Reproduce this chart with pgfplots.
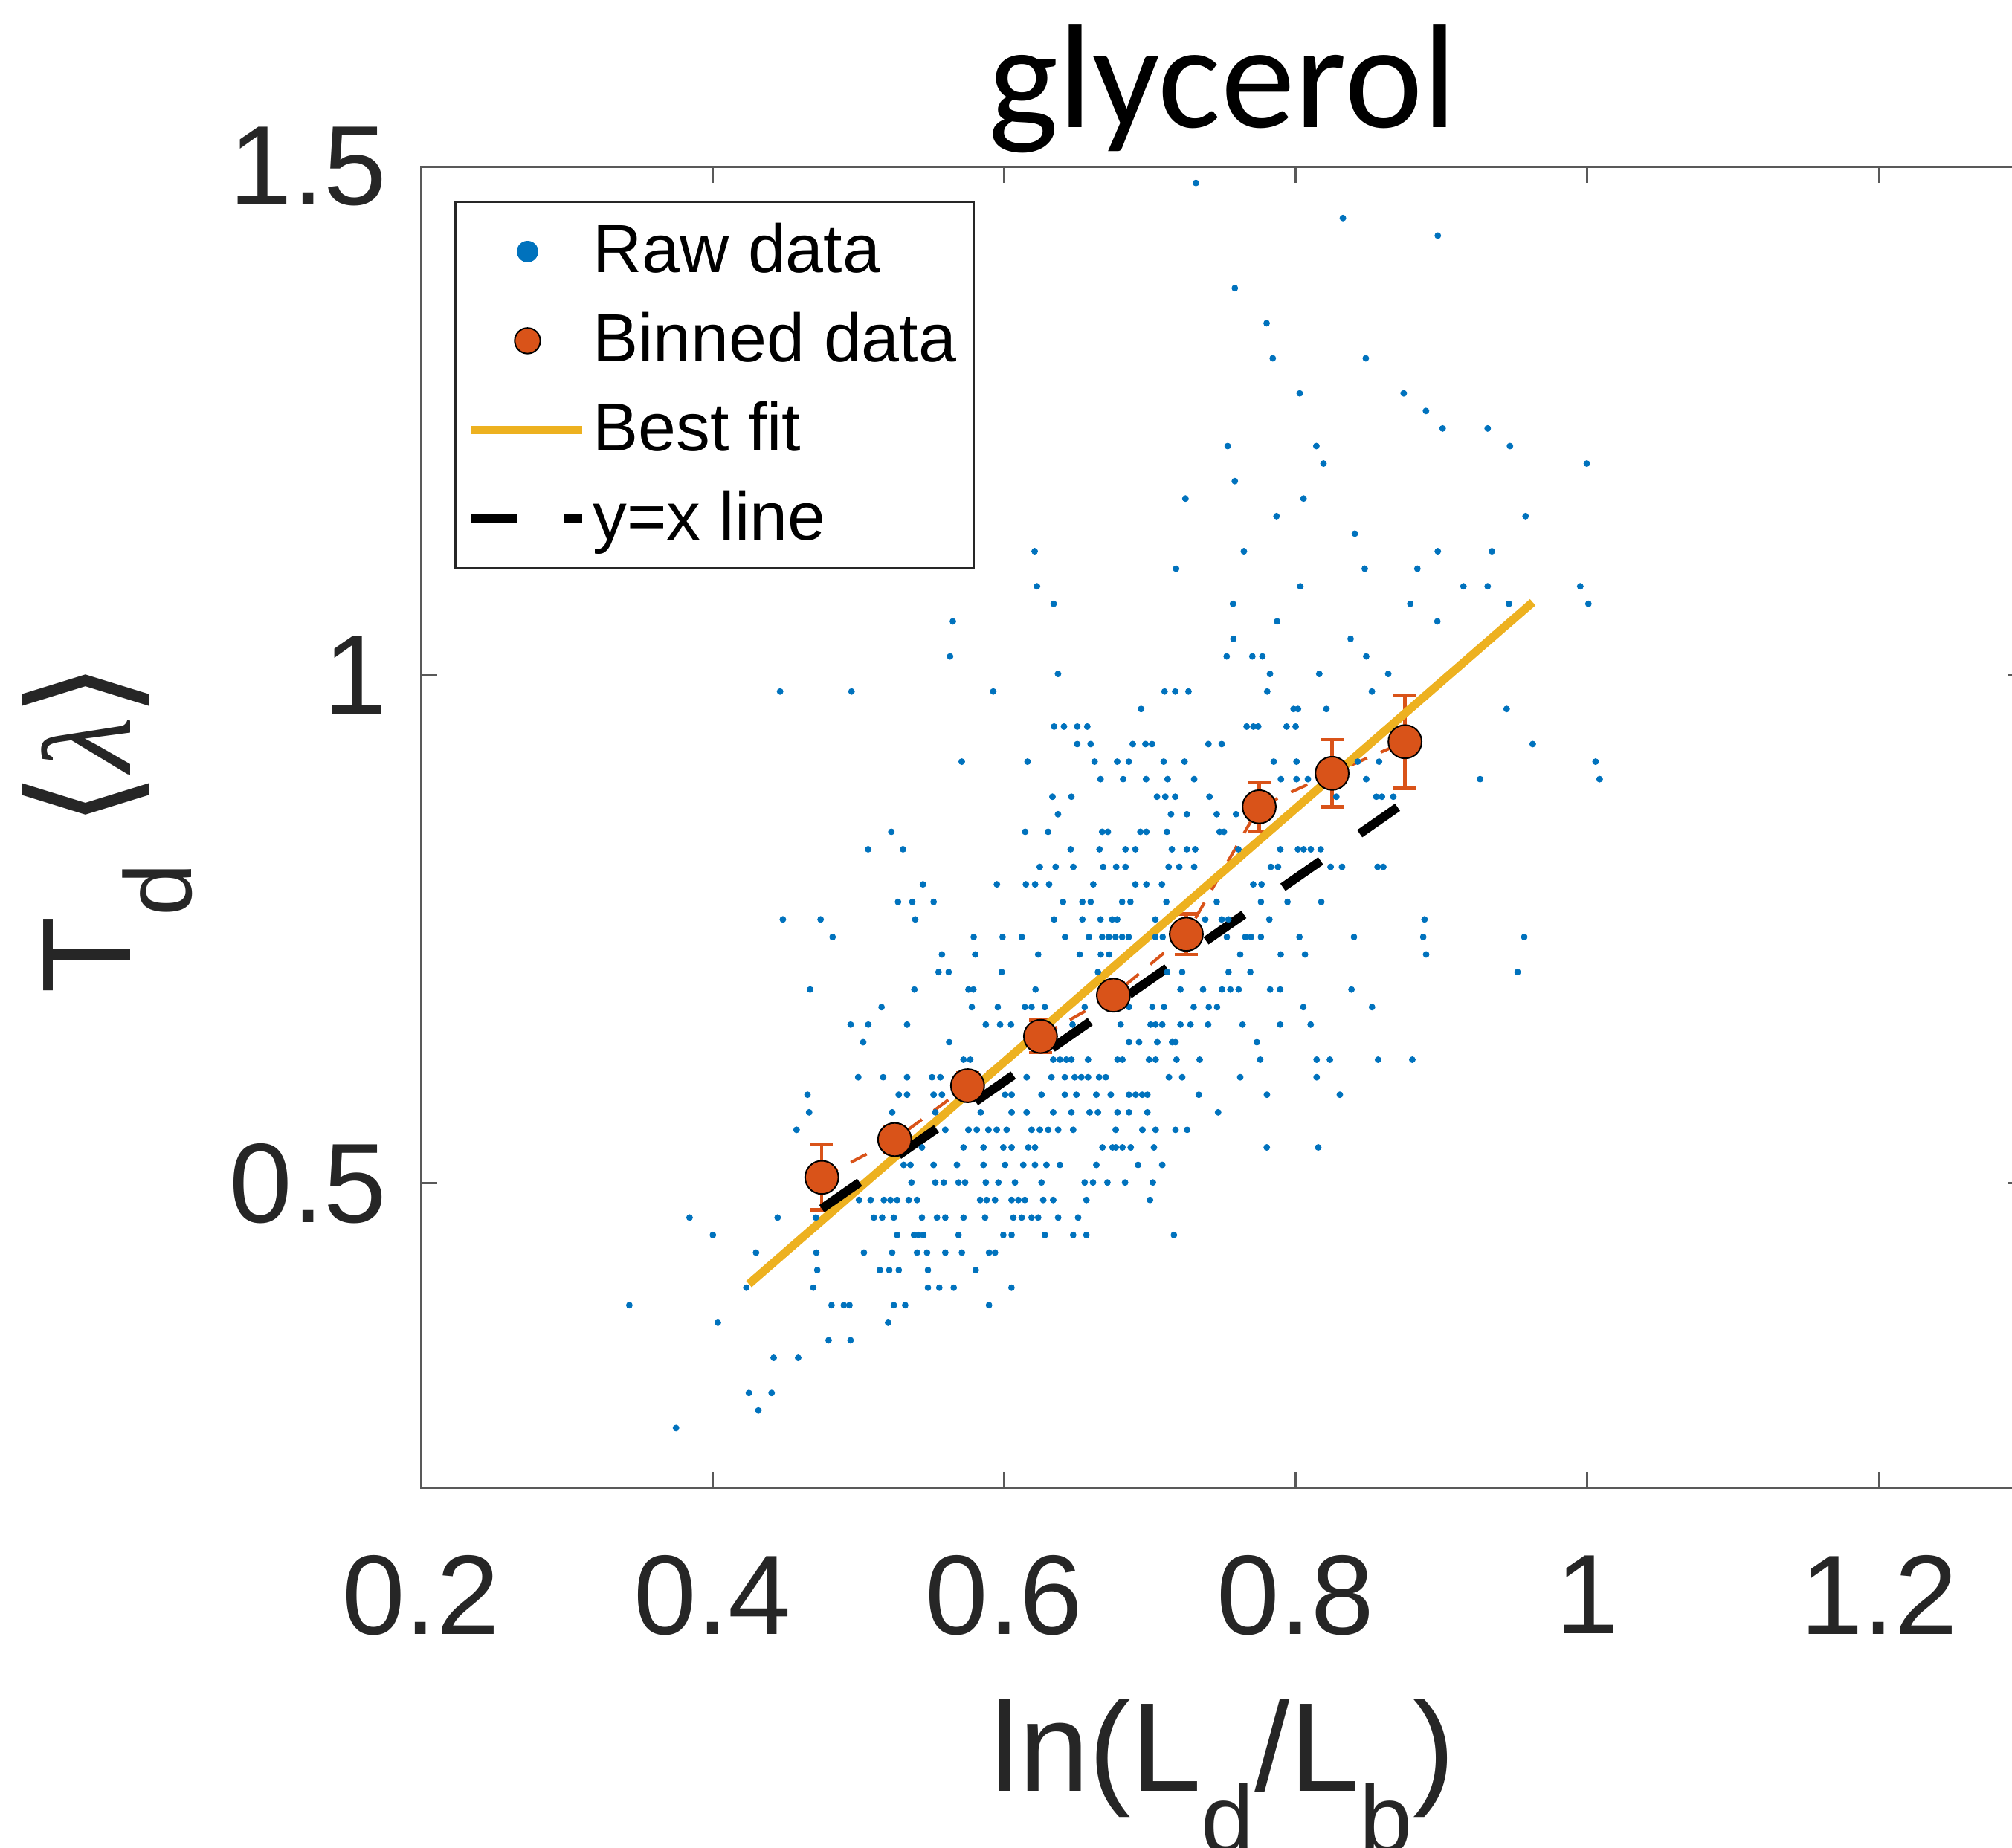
\documentclass[border=0pt]{standalone}
\usepackage{fontspec}
\setmainfont{Liberation Sans}
\newfontfamily\titlefont{Carlito}
\newfontfamily\symfont{DejaVu Sans}
\newfontfamily\greekfont{Liberation Serif}
\usepackage{pgfplots}
\pgfplotsset{compat=1.18}

\definecolor{rawblue}{RGB}{0,114,189}
\definecolor{binorange}{RGB}{217,83,25}
\definecolor{fityellow}{RGB}{237,177,32}
\definecolor{axisgray}{RGB}{38,38,38}

% lowered, smaller subscript as in the axis labels
\newcommand{\lowsub}[1]{\raisebox{-20.5pt}{\fontsize{32}{32}\selectfont #1}}

\pgfplotsset{
  every axis title/.style={at={(axis description cs:0.5,1.0297)}, anchor=base,
    font=\titlefont\fontsize{50}{54}\selectfont},
}

\begin{document}
\begin{tikzpicture}
\begin{axis}[
  at={(0pt,0pt)}, anchor=south west,
  scale only axis, width=539.25pt, height=444.4pt,
  xmin=0.2, xmax=1.3, ymin=0.2, ymax=1.5,
  xtick={0.2,0.4,0.6,0.8,1,1.2}, xticklabels={0.2,0.4,0.6,0.8,1,1.2},
  ytick={0.5,1,1.5}, yticklabels={0.5,1,1.5},
  minor tick num=0,
  tick align=inside, tick pos=both, major tick length=5.5pt,
  axis line style={line width=0.7pt, draw=black!65},
  tick style={line width=0.7pt, draw=black!65},
  ticklabel style={font=\fontsize{38}{40}\selectfont, text=axisgray, inner sep=0pt},
  xticklabel style={anchor=north, yshift=-22.5pt},
  yticklabel style={anchor=east, xshift=-11.25pt},
  xlabel={ln(L\lowsub{d}/L\lowsub{b})},
  xlabel style={at={(axis description cs:0.5,-0.2295)}, anchor=base,
    font=\fontsize{42.5}{46}\selectfont, text=axisgray},
  ylabel={T\lowsub{d} {\fontsize{48}{50}\selectfont\symfont\char"27E8}{\greekfont\itshape λ}{\fontsize{48}{50}\selectfont\symfont\char"27E9}},
  ylabel style={at={(axis description cs:-0.1808,0.5)}, anchor=base,
    font=\fontsize{42.5}{46}\selectfont, text=axisgray},
  title={glycerol},
  legend cell align=left,
  legend style={
    at={(axis description cs:0.0209,0.9740)}, anchor=north west,
    draw=axisgray, line width=0.7pt, fill=white,
    inner xsep=3.75pt, inner ysep=1.6pt,
    font=\fontsize{22.9}{27}\selectfont,
    nodes={inner xsep=2pt, inner ysep=3pt, text height=19pt, text depth=5pt},
  },
]

% raw measurements
\addplot[only marks, mark=*, mark size=1pt,
  mark options={draw=rawblue, fill=rawblue, line width=0.2pt},
  legend image code/.code={\path[draw=none] (0pt,0pt) -- (37.5pt,0pt);
    \fill[rawblue, draw=none] (19pt,0pt) circle[radius=3.6pt];}]
coordinates {
(0.7316,1.4841)
(0.8324,1.4496)
(0.8975,1.4323)
(0.7583,1.3806)
(0.7801,1.3461)
(0.7843,1.3116) (0.8481,1.3116)
(0.8028,1.2771) (0.8741,1.2771)
(0.8894,1.2598)
(0.9008,1.2426) (0.9317,1.2426)
(0.7534,1.2253) (0.8142,1.2253) (0.9470,1.2253)
(0.8191,1.2081) (0.9997,1.2081)
(0.7583,1.1908)
(0.7244,1.1736) (0.8054,1.1736)
(0.7869,1.1563) (0.9577,1.1563)
(0.8406,1.1391)
(0.6210,1.1218) (0.7645,1.1218) (0.8975,1.1218) (0.9346,1.1218)
(0.7180,1.1046) (0.8474,1.1046) (0.8835,1.1046)
(0.6226,1.0873) (0.8032,1.0873) (0.9151,1.0873) (0.9317,1.0873) (0.9952,1.0873)
(0.6340,1.0701) (0.7570,1.0701) (0.8786,1.0701) (0.9463,1.0701) (1.0008,1.0701)
(0.5649,1.0528) (0.7873,1.0528) (0.8972,1.0528)
(0.7573,1.0356) (0.8377,1.0356)
(0.5630,1.0183) (0.7527,1.0183) (0.7703,1.0183) (0.7772,1.0183) (0.8484,1.0183)
(0.6370,1.0011) (0.7824,1.0011) (0.8162,1.0011) (0.8635,1.0011)
(0.4464,0.9838) (0.4954,0.9838) (0.5926,0.9838) (0.7101,0.9838) (0.7174,0.9838) (0.7265,0.9838) (0.7805,0.9838) (0.8523,0.9838)
(0.6940,0.9666) (0.7986,0.9666) (0.8016,0.9666) (0.8211,0.9666) (0.9447,0.9666)
(0.6343,0.9493) (0.6411,0.9493) (0.6502,0.9493) (0.6571,0.9493) (0.7664,0.9493) (0.7710,0.9493) (0.7743,0.9493) (0.7938,0.9493) (0.8000,0.9493)
(0.6502,0.9321) (0.6594,0.9321) (0.6883,0.9321) (0.6970,0.9321) (0.7015,0.9321) (0.7402,0.9321) (0.7493,0.9321) (0.9626,0.9321)
(0.5710,0.9148) (0.6161,0.9148) (0.6621,0.9148) (0.6776,0.9148) (0.6856,0.9148) (0.7095,0.9148) (0.7238,0.9148) (0.7850,0.9148) (0.8006,0.9148) (0.8426,0.9148) (0.8572,0.9148) (1.0057,0.9148)
(0.6662,0.8976) (0.6817,0.8976) (0.6974,0.8976) (0.7122,0.8976) (0.7304,0.8976) (0.7899,0.8976) (0.8006,0.8976) (0.8084,0.8976) (0.8484,0.8976) (0.9265,0.8976) (1.0085,0.8976)
(0.6332,0.8803) (0.6462,0.8803) (0.7049,0.8803) (0.7106,0.8803) (0.7174,0.8803) (0.7409,0.8803) (0.8279,0.8803) (0.8553,0.8803) (0.8592,0.8803) (0.8670,0.8803)
(0.6370,0.8631) (0.7145,0.8631) (0.7254,0.8631) (0.7459,0.8631) (0.7591,0.8631)
(0.5227,0.8458) (0.6145,0.8458) (0.6302,0.8458) (0.6673,0.8458) (0.6712,0.8458) (0.6935,0.8458) (0.6976,0.8458) (0.7117,0.8458) (0.7479,0.8458) (0.7508,0.8458)
(0.5068,0.8286) (0.5307,0.8286) (0.6457,0.8286) (0.6655,0.8286) (0.6833,0.8286) (0.6901,0.8286) (0.7151,0.8286) (0.7254,0.8286) (0.7311,0.8286) (0.7607,0.8286) (0.7895,0.8286) (0.8016,0.8286) (0.8055,0.8286) (0.8104,0.8286) (0.8172,0.8286)
(0.6245,0.8113) (0.6354,0.8113) (0.6475,0.8113) (0.6680,0.8113) (0.6769,0.8113) (0.6833,0.8113) (0.7129,0.8113) (0.7202,0.8113) (0.7304,0.8113) (0.7830,0.8113) (0.7879,0.8113) (0.8240,0.8113) (0.8318,0.8113) (0.8562,0.8113) (0.8601,0.8113)
(0.5444,0.7941) (0.5951,0.7941) (0.6150,0.7941) (0.6213,0.7941) (0.6309,0.7941) (0.6612,0.7941) (0.6901,0.7941) (0.6976,0.7941) (0.7083,0.7941) (0.7709,0.7941) (0.7766,0.7941)
(0.5273,0.7768) (0.5371,0.7768) (0.5517,0.7768) (0.6405,0.7768) (0.6537,0.7768) (0.6594,0.7768) (0.6810,0.7768) (0.6867,0.7768) (0.7113,0.7768) (0.7459,0.7768) (0.7762,0.7768) (0.7944,0.7768) (0.8176,0.7768)
(0.4483,0.7596) (0.4742,0.7596) (0.5391,0.7596) (0.6343,0.7596) (0.6537,0.7596) (0.6662,0.7596) (0.6742,0.7596) (0.6776,0.7596) (0.7038,0.7596) (0.7380,0.7596) (0.7493,0.7596) (0.7539,0.7596) (0.7820,0.7596) (0.8884,0.7596)
(0.4824,0.7423) (0.5792,0.7423) (0.5990,0.7423) (0.6122,0.7423) (0.6418,0.7423) (0.6582,0.7423) (0.6673,0.7423) (0.6719,0.7423) (0.6765,0.7423) (0.6810,0.7423) (0.6855,0.7423) (0.7038,0.7423) (0.7088,0.7423) (0.7528,0.7423) (0.7655,0.7423) (0.7694,0.7423) (0.7762,0.7423) (0.8026,0.7423) (0.8400,0.7423) (0.8875,0.7423) (0.9568,0.7423)
(0.5574,0.7251) (0.5802,0.7251) (0.6234,0.7251) (0.6519,0.7251) (0.6664,0.7251) (0.6721,0.7251) (0.7620,0.7251) (0.7898,0.7251) (0.8064,0.7251) (0.8895,0.7251)
(0.5551,0.7078) (0.5620,0.7078) (0.5984,0.7078) (0.6644,0.7078) (0.7119,0.7078) (0.7222,0.7078) (0.7540,0.7078) (0.7689,0.7078) (0.9522,0.7078)
(0.4670,0.6906) (0.5385,0.6906) (0.5756,0.6906) (0.5790,0.6906) (0.6216,0.6906) (0.7210,0.6906) (0.7365,0.6906) (0.7495,0.6906) (0.7552,0.6906) (0.7609,0.6906) (0.7825,0.6906) (0.7894,0.6906) (0.8383,0.6906)
(0.5160,0.6733) (0.5779,0.6733) (0.5957,0.6733) (0.6143,0.6733) (0.6189,0.6733) (0.6280,0.6733) (0.6553,0.6733) (0.6857,0.6733) (0.7017,0.6733) (0.7097,0.6733) (0.7301,0.6733) (0.7404,0.6733) (0.7461,0.6733) (0.8053,0.6733) (0.8524,0.6733)
(0.4948,0.6561) (0.5069,0.6561) (0.5335,0.6561) (0.5875,0.6561) (0.5973,0.6561) (0.6048,0.6561) (0.6470,0.6561) (0.6800,0.6561) (0.7005,0.6561) (0.7040,0.6561) (0.7085,0.6561) (0.7210,0.6561) (0.7279,0.6561) (0.7400,0.6561) (0.7636,0.6561) (0.7894,0.6561) (0.8103,0.6561)
(0.5034,0.6388) (0.5624,0.6388) (0.6857,0.6388) (0.6926,0.6388) (0.7051,0.6388) (0.7153,0.6388) (0.7176,0.6388) (0.7734,0.6388)
(0.5722,0.6216) (0.5768,0.6216) (0.6337,0.6216) (0.6383,0.6216) (0.6428,0.6216) (0.6462,0.6216) (0.6576,0.6216) (0.6778,0.6216) (0.6812,0.6216) (0.6994,0.6216) (0.7040,0.6216) (0.7183,0.6216) (0.7342,0.6216) (0.7757,0.6216) (0.8144,0.6216) (0.8235,0.6216) (0.8565,0.6216) (0.8800,0.6216)
(0.5000,0.6043) (0.5171,0.6043) (0.5335,0.6043) (0.5506,0.6043) (0.5563,0.6043) (0.6155,0.6043) (0.6325,0.6043) (0.6417,0.6043) (0.6485,0.6043) (0.6530,0.6043) (0.6576,0.6043) (0.6652,0.6043) (0.6698,0.6043) (0.7131,0.6043) (0.7222,0.6043) (0.7620,0.6043) (0.8144,0.6043)
(0.4652,0.5871) (0.5278,0.5871) (0.5335,0.5871) (0.5517,0.5871) (0.5574,0.5871) (0.6007,0.5871) (0.6052,0.5871) (0.6257,0.5871) (0.6417,0.5871) (0.6496,0.5871) (0.6633,0.5871) (0.6732,0.5871) (0.6857,0.5871) (0.6903,0.5871) (0.6948,0.5871) (0.6983,0.5871) (0.7336,0.5871) (0.7803,0.5871) (0.8303,0.5871)
(0.4663,0.5698) (0.5233,0.5698) (0.5529,0.5698) (0.5840,0.5698) (0.6052,0.5698) (0.6155,0.5698) (0.6337,0.5698) (0.6462,0.5698) (0.6587,0.5698) (0.6644,0.5698) (0.6778,0.5698) (0.6857,0.5698) (0.6983,0.5698) (0.7468,0.5698)
(0.4577,0.5526) (0.5597,0.5526) (0.5756,0.5526) (0.5813,0.5526) (0.5893,0.5526) (0.5950,0.5526) (0.6018,0.5526) (0.6189,0.5526) (0.6246,0.5526) (0.6303,0.5526) (0.6371,0.5526) (0.6474,0.5526) (0.6766,0.5526) (0.6949,0.5526) (0.7040,0.5526) (0.7176,0.5526) (0.7256,0.5526)
(0.5437,0.5353) (0.5722,0.5353) (0.5859,0.5353) (0.5995,0.5353) (0.6052,0.5353) (0.6166,0.5353) (0.6212,0.5353) (0.6675,0.5353) (0.6744,0.5353) (0.6767,0.5353) (0.6812,0.5353) (0.6869,0.5353) (0.7028,0.5353) (0.7802,0.5353) (0.8155,0.5353)
(0.5312,0.5181) (0.5358,0.5181) (0.5517,0.5181) (0.5677,0.5181) (0.5859,0.5181) (0.6007,0.5181) (0.6132,0.5181) (0.6212,0.5181) (0.6291,0.5181) (0.6383,0.5181) (0.6633,0.5181) (0.6919,0.5181) (0.7085,0.5181)
(0.5365,0.5008) (0.5529,0.5008) (0.5586,0.5008) (0.5688,0.5008) (0.5733,0.5008) (0.5875,0.5008) (0.5961,0.5008) (0.6075,0.5008) (0.6257,0.5008) (0.6553,0.5008) (0.6610,0.5008) (0.6709,0.5008) (0.6830,0.5008) (0.7021,0.5008)
(0.5005,0.4836) (0.5085,0.4836) (0.5176,0.4836) (0.5221,0.4836) (0.5267,0.4836) (0.5346,0.4836) (0.5403,0.4836) (0.5836,0.4836) (0.5881,0.4836) (0.5938,0.4836) (0.6052,0.4836) (0.6098,0.4836) (0.6143,0.4836) (0.6269,0.4836) (0.6337,0.4836) (0.6565,0.4836) (0.7001,0.4836)
(0.3843,0.4663) (0.4447,0.4663) (0.4709,0.4663) (0.5107,0.4663) (0.5164,0.4663) (0.5244,0.4663) (0.5437,0.4663) (0.5540,0.4663) (0.5597,0.4663) (0.5722,0.4663) (0.5870,0.4663) (0.6064,0.4663) (0.6121,0.4663) (0.6189,0.4663) (0.6234,0.4663) (0.6371,0.4663) (0.6508,0.4663)
(0.4003,0.4491) (0.5267,0.4491) (0.5382,0.4491) (0.5414,0.4491) (0.5447,0.4491) (0.5688,0.4491) (0.5995,0.4491) (0.6052,0.4491) (0.6280,0.4491) (0.6474,0.4491) (0.6565,0.4491) (0.7165,0.4491)
(0.4299,0.4318) (0.4713,0.4318) (0.5039,0.4318) (0.5233,0.4318) (0.5403,0.4318) (0.5472,0.4318) (0.5597,0.4318) (0.5711,0.4318) (0.5897,0.4318) (0.5938,0.4318)
(0.4719,0.4146) (0.5148,0.4146) (0.5213,0.4146) (0.5278,0.4146) (0.5478,0.4146) (0.5806,0.4146)
(0.4232,0.3973) (0.4692,0.3973) (0.5478,0.3973) (0.5556,0.3973) (0.5655,0.3973) (0.6051,0.3973)
(0.3430,0.3801) (0.4817,0.3801) (0.4901,0.3801) (0.4940,0.3801) (0.5244,0.3801) (0.5322,0.3801) (0.5897,0.3801)
(0.4037,0.3628) (0.5205,0.3628)
(0.4797,0.3456) (0.4947,0.3456)
(0.4420,0.3283) (0.4588,0.3283)
(0.4250,0.2938) (0.4406,0.2938)
(0.4315,0.2766)
(0.3750,0.2593)
};
\addlegendentry{Raw data}

% bin means with standard errors
\addplot[binorange, line width=1pt, dash pattern=on 6pt off 5pt,
  mark=*, mark size=5.6pt,
  mark options={solid, fill=binorange, draw=black, line width=0.5pt},
  error bars/.cd, y dir=both, y explicit,
  error bar style={solid, line width=1.1pt, binorange},
  error mark options={rotate=90, mark size=3.8pt, line width=1.1pt, binorange, solid},
  /pgfplots/legend image code/.code={\path[draw=none] (0pt,0pt) -- (37.5pt,0pt);
    \filldraw[fill=binorange, draw=black, line width=0.5pt, solid] (19pt,0pt) circle[radius=4.3pt];}]
coordinates {
(0.475,0.5058) +- (0,0.032)
(0.525,0.5430) +- (0,0.012)
(0.575,0.5960) +- (0,0.013)
(0.625,0.6445) +- (0,0.016)
(0.675,0.6850) +- (0,0.012)
(0.725,0.7450) +- (0,0.020)
(0.775,0.8704) +- (0,0.024)
(0.825,0.9033) +- (0,0.033)
(0.875,0.9344) +- (0,0.046)
};
\addlegendentry{Binned data}

% linear fit
\addplot[fityellow, line width=2.8pt,
  legend image code/.code={\draw[fityellow, line width=2.8pt] (0pt,0pt) -- (37.5pt,0pt);}]
coordinates {(0.4250,0.4009) (0.9626,1.0716)};
\addlegendentry{Best fit}

% identity line
\addplot[black, line width=3pt, dash pattern=on 15.5pt off 16pt,
  legend image code/.code={\draw[black, line width=3pt, dash pattern=on 15.5pt off 16pt] (0pt,0pt) -- (37.5pt,0pt);}]
coordinates {(0.475,0.475) (0.875,0.875)};
\addlegendentry{y=x line}
\end{axis}
\pgfresetboundingbox
\path[use as bounding box] (-141.5pt,-120.75pt) rectangle (535pt,500.5pt);
\end{tikzpicture}
\end{document}
